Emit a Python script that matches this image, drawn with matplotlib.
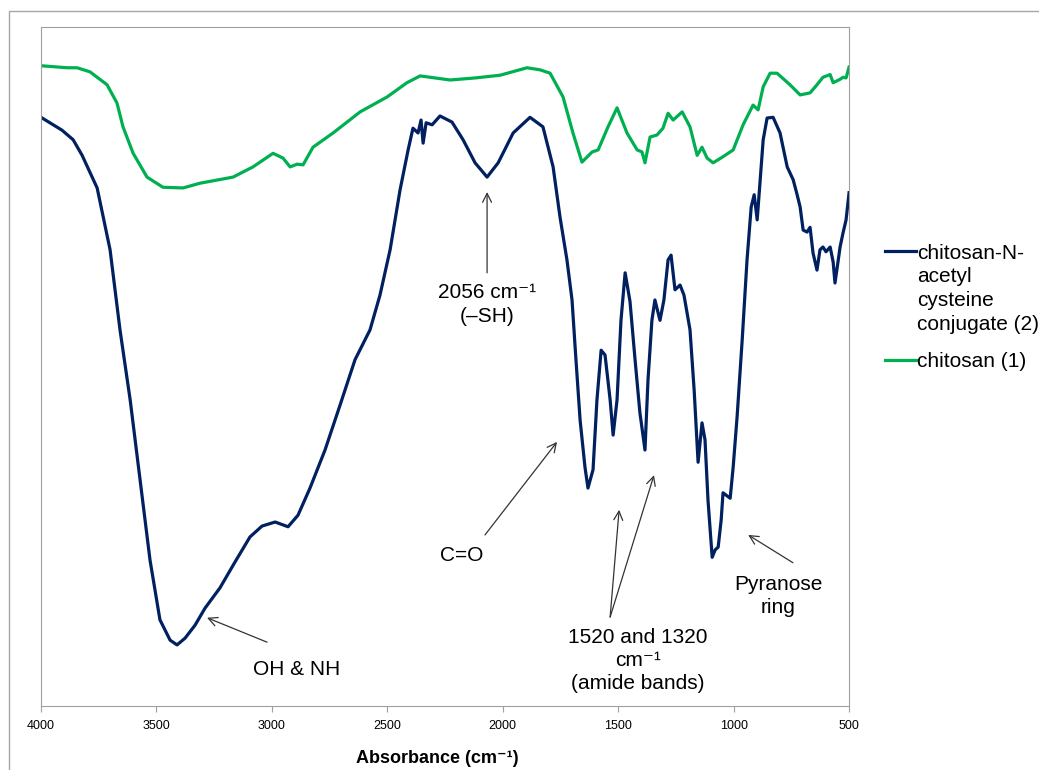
import matplotlib
matplotlib.use("Agg")
import numpy as np
import matplotlib.pyplot as plt
from matplotlib.patches import Rectangle
from matplotlib.legend_handler import HandlerLine2D

plt.rcParams['font.family'] = ['Liberation Sans', 'DejaVu Sans']

# FTIR spectra (wavenumber in cm-1, relative units 0-100)
conj_wn = [4000, 3909, 3861, 3822, 3757, 3701, 3658, 3614, 3571, 3528, 3485, 3441,
           3411, 3376, 3333, 3290, 3225, 3160, 3095, 3043, 2986, 2930, 2887, 2835,
           2770, 2705, 2640, 2575, 2532, 2488, 2445, 2410, 2389, 2367, 2354, 2345,
           2332, 2306, 2272, 2220, 2172, 2120, 2068, 2020, 1955, 1882, 1826, 1782,
           1752, 1722, 1700, 1683, 1665, 1644, 1631, 1609, 1592, 1574, 1557, 1535,
           1522, 1505, 1488, 1470, 1449, 1427, 1406, 1384, 1371, 1354, 1341, 1319,
           1302, 1284, 1271, 1254, 1232, 1215, 1189, 1171, 1154, 1137, 1124, 1111,
           1093, 1080, 1067, 1054, 1046, 1015, 1002, 985, 963, 942, 924, 911, 898,
           885, 872, 855, 829, 799, 768, 742, 725, 712, 699, 682, 669, 656, 639, 626,
           613, 600, 582, 569, 561, 548, 539, 526, 513, 500]
conj_val = [86.7, 84.8, 83.4, 81.1, 76.3, 67.2, 55.4, 45.1, 33.3, 21.5, 12.7, 9.7,
            9.0, 10.0, 11.9, 14.4, 17.4, 21.2, 24.9, 26.5, 27.1, 26.4, 28.1, 32.1,
            37.7, 44.3, 51.0, 55.4, 60.5, 67.2, 76.0, 81.9, 85.1, 84.4, 86.3, 82.9,
            85.9, 85.6, 86.9, 86.0, 83.4, 80.0, 77.9, 80.0, 84.4, 86.7, 85.3, 79.4,
            72.0, 65.7, 59.8, 51.0, 42.1, 35.2, 32.1, 34.8, 45.1, 52.4, 51.7, 45.1,
            39.9, 45.1, 56.8, 63.8, 59.6, 51.0, 43.2, 37.7, 48.0, 56.8, 59.8, 56.8,
            59.8, 65.7, 66.4, 61.3, 62.0, 60.5, 55.4, 46.5, 35.9, 41.7, 39.2, 30.3,
            21.9, 23.0, 23.4, 27.4, 31.4, 30.6, 35.2, 42.6, 53.9, 65.7, 73.5, 75.3, 71.6,
            77.5, 83.4, 86.6, 86.7, 84.4, 79.4, 77.5, 75.3, 73.5, 70.1, 69.8, 70.5, 66.7, 64.2, 67.2,
            67.6, 66.9, 67.6, 65.4, 62.3, 65.4, 67.6, 69.7, 71.6, 75.6]

chit_wn = [4000, 3887, 3844, 3788, 3757, 3714, 3671, 3645, 3601, 3541, 3472, 3385,
           3311, 3168, 3082, 2995, 2952, 2921, 2891, 2865, 2822, 2735, 2618, 2501,
           2415, 2358, 2228, 2120, 2012, 1895, 1839, 1795, 1739, 1696, 1657, 1613,
           1587, 1544, 1505, 1462, 1418, 1397, 1384, 1362, 1332, 1306, 1284, 1262,
           1223, 1189, 1158, 1137, 1115, 1089, 1046, 1002, 959, 916, 894, 872, 842,
           812, 756, 712, 669, 639, 613, 582, 569, 539, 526, 513, 500]
chit_val = [94.3, 94.0, 94.0, 93.4, 92.6, 91.5, 88.8, 85.3, 81.4, 77.9, 76.4, 76.3,
            77.0, 77.9, 79.4, 81.4, 80.7, 79.4, 79.8, 79.7, 82.3, 84.4, 87.5, 89.7,
            91.8, 92.8, 92.2, 92.5, 92.9, 94.0, 93.7, 93.2, 89.7, 84.4, 80.1, 81.6,
            81.9, 85.3, 88.1, 84.4, 81.9, 81.6, 80.0, 83.8, 84.1, 85.1, 87.3, 86.3,
            87.5, 85.3, 81.1, 82.3, 80.7, 80.0, 80.9, 81.9, 85.6, 88.5, 87.8, 91.2, 93.2,
            93.2, 91.5, 90.0, 90.3, 91.5, 92.6, 93.0, 91.8, 92.3, 92.6, 92.5, 94.1]

conj_label = "chitosan-N-\nacetyl\ncysteine\nconjugate (2)"
chit_label = "chitosan (1)"
x_ticks = [4000, 3500, 3000, 2500, 2000, 1500, 1000, 500]


class TopLine(HandlerLine2D):
    # put the legend line next to the first text line instead of the middle
    def __init__(self, shift, **kw):
        super().__init__(**kw)
        self.shift = shift

    def create_artists(self, legend, orig_handle, xdescent, ydescent, width,
                       height, fontsize, trans):
        arts = super().create_artists(legend, orig_handle, xdescent, ydescent,
                                      width, height, fontsize, trans)
        for a in arts:
            a.set_ydata(np.asarray(a.get_ydata()) + self.shift)
        return arts


fig = plt.figure(figsize=(10.39, 7.70), dpi=100)
ax = fig.add_axes([0.0395, 0.0831, 0.7777, 0.8818])

l1, = ax.plot(conj_wn, conj_val, color='#002060', lw=2.3, label=conj_label)
l2, = ax.plot(chit_wn, chit_val, color='#00B050', lw=2.3, label=chit_label)

ax.set_xlim(4000, 500)
ax.set_ylim(0, 100)
ax.set_xticks(x_ticks)
ax.set_yticks([])
for s in ax.spines.values():
    s.set_color('#A0A0A0')
ax.tick_params(axis='x', direction='out', length=4, color='#A0A0A0', labelsize=9, pad=6)

ax.set_xlabel("Absorbance (cm\u207b\u00b9)", fontsize=13, fontweight='bold', va='center')
ax.xaxis.set_label_coords(0.49, -0.0766)

# annotations
arrow = dict(arrowstyle='->', color='#333333', lw=0.9, mutation_scale=16, shrinkA=0, shrinkB=0)
fs = 15
ax.annotate('', xy=(2068, 75.7), xytext=(2068, 63.8), arrowprops=arrow)
ax.text(2068, 59.1, "2056 cm\u207b\u00b9\n(\u2013SH)", fontsize=fs, ha='center', va='center', linespacing=1.3)

ax.annotate('', xy=(1765, 38.9), xytext=(2077, 25.2), arrowprops=arrow)
ax.text(2176, 22.2, "C=O", fontsize=fs, ha='center', va='center')

ax.annotate('', xy=(3281, 13.0), xytext=(3021, 9.4), arrowprops=arrow)
ax.text(2891, 5.4, "OH & NH", fontsize=fs, ha='center', va='center')

ax.annotate('', xy=(1496, 28.9), xytext=(1535, 13.1), arrowprops=arrow)
ax.annotate('', xy=(1345, 34.0), xytext=(1535, 13.1), arrowprops=arrow)
ax.text(1414, 6.7, "1520 and 1320\ncm\u207b\u00b9\n(amide bands)", fontsize=fs, ha='center', va='center', linespacing=1.28)

ax.annotate('', xy=(937, 25.2), xytext=(743, 21.1), arrowprops=arrow)
ax.text(807, 16.2, "Pyranose\nring", fontsize=fs, ha='center', va='center', linespacing=1.3)

leg = ax.legend(handles=[l1, l2], loc='upper left',
                bbox_to_anchor=(885 / 1039, 1 - 244 / 770),
                bbox_transform=fig.transFigure, frameon=False, fontsize=15,
                handlelength=1.5, handletextpad=0.05, labelspacing=0.9,
                borderaxespad=0, borderpad=0,
                handler_map={l1: TopLine(shift=27)})
for t in leg.get_texts():
    t.set_linespacing(1.3)

fig.patches.append(Rectangle((9 / 1039, -0.1), 1.2, 0.1 + (770 - 11) / 770,
                             transform=fig.transFigure, fill=False,
                             edgecolor='#A6A6A6', lw=1, clip_on=False))

fig.savefig("out.png", dpi=100)
